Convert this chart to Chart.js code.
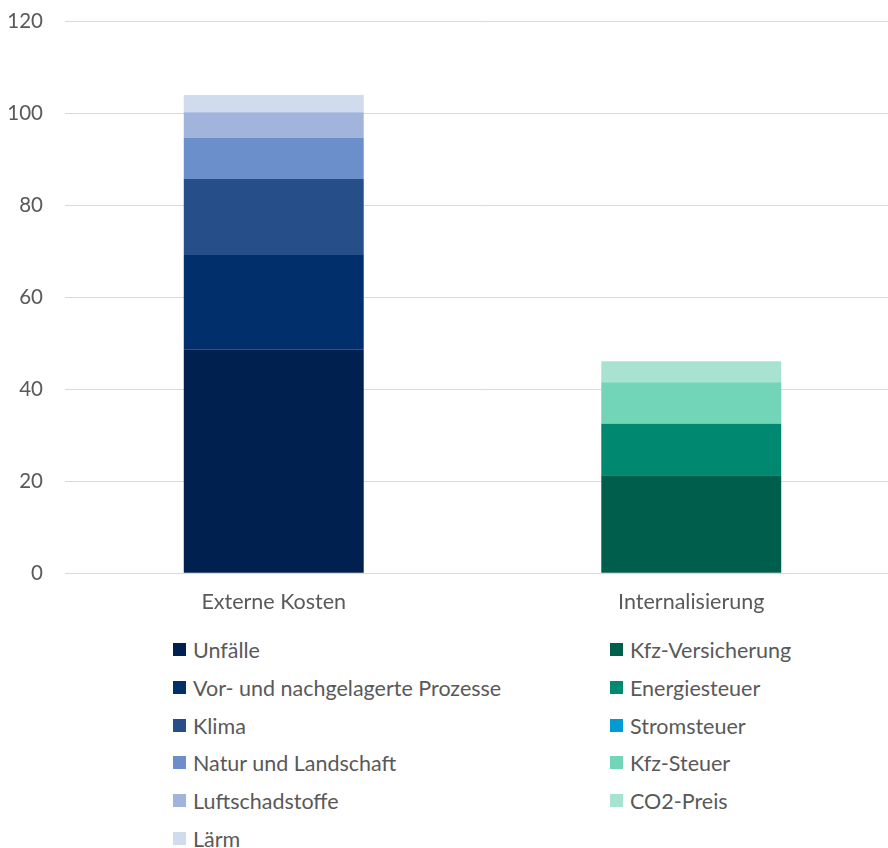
<!DOCTYPE html>
<html>
<head>
<meta charset="utf-8">
<script src="https://cdn.jsdelivr.net/npm/chart.js@4/dist/chart.umd.min.js"></script>
<style>
  html, body { margin: 0; padding: 0; background: #fff; overflow: hidden; }
  #wrap { position: relative; width: 888px; height: 848px; overflow: hidden; }
  #chartBox { position: absolute; left: 0; top: -13px; width: 900px; height: 644px; }
  .leg { position: absolute; font-family: Lato, "Liberation Sans", sans-serif; font-size: 21.5px; color: #595959; white-space: nowrap; line-height: 26px; }
  .leg .sw { position: absolute; width: 13px; height: 13px; top: 6px; }
  .leg .tx { position: absolute; left: 20px; top: 0; }
</style>
</head>
<body>
<div id="wrap">
  <div id="chartBox"><canvas id="c"></canvas></div>
  <div id="legend"></div>
</div>
<script>
const categories = ['Externe Kosten', 'Internalisierung'];

const externalNames = ['Unfälle', 'Vor- und nachgelagerte Prozesse', 'Klima', 'Natur und Landschaft', 'Luftschadstoffe', 'Lärm'];
const externalValues = [48.6, 20.6, 16.5, 8.9, 5.6, 3.8];
const externalColors = ['#00214f', '#002f6c', '#264e89', '#6b8fca', '#a0b4dc', '#d0dbed'];

const internalNames = ['Kfz-Versicherung', 'Energiesteuer', 'Stromsteuer', 'Kfz-Steuer', 'CO2-Preis'];
const internalValues = [21.3, 11.2, 0, 9.0, 4.6];
const internalColors = ['#005e4d', '#008870', '#009bd5', '#72d5b7', '#a7e3d0'];

const yTicks = [0, 20, 40, 60, 80, 100, 120];

const datasets = [];
externalNames.forEach((n, i) => datasets.push({ label: n, data: [externalValues[i], null], backgroundColor: externalColors[i], borderWidth: 0 }));
internalNames.forEach((n, i) => datasets.push({ label: n, data: [null, internalValues[i]], backgroundColor: internalColors[i], borderWidth: 0 }));

const FONT = 'Lato, "Liberation Sans", sans-serif';

new Chart(document.getElementById('c'), {
  type: 'bar',
  data: { labels: categories, datasets },
  options: {
    responsive: true,
    maintainAspectRatio: false,
    animation: false,
    layout: { padding: { top: 10, right: 0, left: 0, bottom: 0 } },
    plugins: { legend: { display: false }, tooltip: { enabled: false } },
    datasets: { bar: { categoryPercentage: 1.0, barPercentage: 0.431 } },
    scales: {
      x: {
        stacked: true,
        grid: { display: false, drawTicks: false },
        border: { display: true, color: '#d9d9d9', width: 1 },
        ticks: { color: '#595959', font: { family: FONT, size: 21.5 }, padding: 16 }
      },
      y: {
        stacked: true,
        min: 0, max: 120,
        afterBuildTicks: (axis) => { axis.ticks = yTicks.map(v => ({ value: v })); },
        afterFit: (axis) => { axis.width = 65; },
        grid: { color: '#d9d9d9', lineWidth: 1, drawTicks: false },
        border: { display: false },
        ticks: { color: '#595959', font: { family: FONT, size: 20.5 }, padding: 22 }
      }
    }
  }
});

// HTML legend in two columns
const legend = document.getElementById('legend');
function addItem(name, color, x, y) {
  const d = document.createElement('div');
  d.className = 'leg';
  d.style.left = x + 'px';
  d.style.top = (y - 13) + 'px';
  d.innerHTML = '<span class="sw" style="background:' + color + '"></span><span class="tx">' + name + '</span>';
  legend.appendChild(d);
}
const rowStart = 650, rowStep = 37.8;
externalNames.forEach((n, i) => addItem(n, externalColors[i], 173, rowStart + i * rowStep));
internalNames.forEach((n, i) => addItem(n, internalColors[i], 610, rowStart + i * rowStep));
</script>
</body>
</html>
